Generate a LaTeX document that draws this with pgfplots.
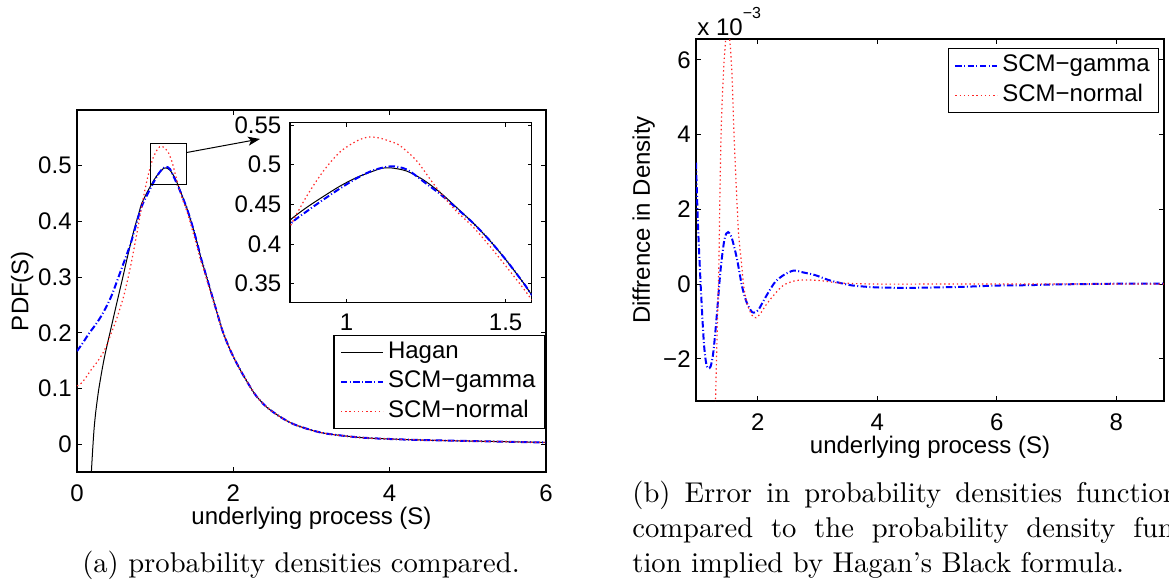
\documentclass[border=0pt]{standalone}
\usepackage{fontspec}
\usepackage{pgfplots}
\pgfplotsset{compat=1.18}
\usepackage{pgfplotstable}
\usetikzlibrary{arrows.meta}

\newfontfamily\plotfont{Liberation Sans}
\newfontfamily\capfont{lmroman10-regular.otf}
\newcommand{\pf}{\plotfont\fontsize{12}{14}\selectfont}
\newcommand{\cf}{\capfont\fontsize{14.3}{17}\selectfont}

% Hagan's density and the two SCM densities
\pgfplotstableread{
x y
0.180 -0.060
0.192 -0.030
0.205 0.000
0.220 0.030
0.240 0.058
0.260 0.080
0.280 0.100
0.320 0.133
0.360 0.162
0.430 0.205
0.500 0.248
0.590 0.302
0.640 0.333
0.690 0.362
0.740 0.390
0.790 0.414
0.822 0.430
0.874 0.446
0.927 0.460
0.979 0.473
1.032 0.484
1.084 0.492
1.110 0.4955
1.140 0.4960
1.189 0.492
1.241 0.481
1.294 0.465
1.346 0.446
1.399 0.426
1.451 0.404
1.503 0.379
1.556 0.351
1.582 0.336
1.616 0.320
1.700 0.280
1.790 0.237
1.870 0.200
1.980 0.163
2.110 0.128
2.260 0.093
2.340 0.079
2.430 0.066
2.600 0.049
2.770 0.036
2.980 0.026
3.190 0.019
3.620 0.012
4.050 0.009
4.470 0.0072
5.110 0.0054
6.000 0.0030
}\hagan

\pgfplotstableread{
x y
0.000 0.167
0.080 0.183
0.160 0.200
0.240 0.215
0.310 0.230
0.380 0.248
0.440 0.266
0.500 0.288
0.567 0.314
0.630 0.338
0.695 0.364
0.760 0.396
0.822 0.425
0.874 0.441
0.927 0.456
0.979 0.470
1.032 0.483
1.084 0.493
1.140 0.498
1.189 0.494
1.241 0.479
1.294 0.463
1.346 0.445
1.399 0.426
1.451 0.404
1.503 0.379
1.556 0.351
1.582 0.336
1.616 0.320
1.700 0.280
1.790 0.237
1.870 0.200
1.980 0.163
2.110 0.128
2.260 0.093
2.340 0.079
2.430 0.066
2.600 0.049
2.770 0.036
2.980 0.026
3.190 0.019
3.620 0.012
4.050 0.009
4.470 0.0072
5.110 0.0054
6.000 0.0030
}\gammapdf

\pgfplotstableread{
x y
0.000 0.1045
0.060 0.110
0.120 0.121
0.183 0.134
0.260 0.148
0.333 0.164
0.390 0.181
0.440 0.200
0.500 0.222
0.546 0.242
0.590 0.262
0.630 0.284
0.695 0.326
0.760 0.374
0.822 0.422
0.874 0.460
0.927 0.492
0.979 0.516
1.032 0.530
1.070 0.535
1.105 0.5335
1.140 0.529
1.168 0.524
1.220 0.505
1.273 0.476
1.315 0.455
1.346 0.441
1.399 0.421
1.451 0.397
1.503 0.371
1.556 0.344
1.582 0.330
1.616 0.316
1.700 0.277
1.790 0.237
1.870 0.200
1.980 0.163
2.110 0.128
2.260 0.093
2.340 0.079
2.430 0.066
2.600 0.049
2.770 0.036
2.980 0.026
3.190 0.019
3.620 0.012
4.050 0.009
4.470 0.0072
5.110 0.0054
6.000 0.0030
}\normalpdf

% density differences (units of 1e-3)
\pgfplotstableread{
x y
0.967 3.25
0.985 2.30
1.006 1.35
1.033 0.38
1.061 -0.52
1.100 -1.60
1.139 -2.14
1.172 -2.25
1.211 -2.21
1.250 -1.91
1.283 -1.42
1.322 -0.70
1.378 0.38
1.433 1.10
1.472 1.35
1.506 1.39
1.544 1.32
1.583 1.14
1.656 0.65
1.739 -0.07
1.822 -0.52
1.906 -0.75
1.961 -0.75
2.017 -0.68
2.072 -0.52
2.183 -0.21
2.294 0.06
2.433 0.24
2.600 0.36
2.767 0.31
2.961 0.24
3.183 0.11
3.406 0.02
3.600 -0.04
4.000 -0.09
4.500 -0.10
5.000 -0.09
5.500 -0.07
6.000 -0.04
6.500 -0.03
7.000 -0.01
7.500 0.00
8.000 0.01
8.800 0.01
}\gammadiff

\pgfplotstableread{
x y
1.260 -6.00
1.294 -3.13
1.322 -1.24
1.350 0.56
1.367 2.35
1.389 4.15
1.422 5.50
1.461 6.49
1.500 6.90
1.544 6.31
1.572 5.50
1.600 4.15
1.628 3.07
1.656 2.08
1.683 1.28
1.728 0.56
1.767 -0.07
1.822 -0.52
1.906 -0.84
1.972 -0.90
2.044 -0.79
2.156 -0.52
2.294 -0.25
2.433 -0.03
2.628 0.09
2.850 0.11
3.072 0.09
3.294 0.04
3.517 0.02
4.000 0.00
5.000 0.00
6.000 0.00
7.000 0.00
8.000 0.00
8.800 0.00
}\normaldiff

\pgfplotsset{
  mlab/.style={
    scale only axis,
    axis line style={line width=0.6pt},
    tick style={line width=0.5pt, black},
    major tick length=2.5pt,
    tick align=inside,
    xtick pos=both, ytick pos=both,
    xticklabel pos=lower, yticklabel pos=left,
    ticklabel style={font=\pf},
    yticklabel style={anchor=east, inner sep=0pt, xshift=-2.5pt},
    clip=true,
  },
  hagan/.style={black, line width=0.5pt},
  scmg/.style={blue, line width=1pt, dash pattern=on 3.2pt off 1.2pt on 0.5pt off 1.2pt},
  scmn/.style={red!85!white, line width=0.6pt, dash pattern=on 0.7pt off 1.4pt},
  mleg/.style={
    legend cell align=left,
    legend image code/.code={\draw[##1] (0pt,0pt) -- (21pt,0pt);},
    legend style={draw=black, line width=0.6pt, fill=white, font=\pf,
      inner xsep=3pt, inner ysep=1.5pt, row sep=0.5pt, column sep=0.5pt,
      nodes={inner sep=1.5pt, text height=8.6pt, text depth=2.6pt}},
  },
}

\begin{document}
\begin{tikzpicture}[x=1pt,y=1pt]
\path[use as bounding box, clip] (0,0) rectangle (584.5,293);

% (a) probability densities
\begin{axis}[mlab, mleg,
  at={(38.5pt,57pt)}, anchor=south west,
  width=234.5pt, height=181pt,
  xmin=0, xmax=6, ymin=-0.05, ymax=0.6,
  xtick={0,2,4,6}, xticklabels={0,2,4,6},
  ytick={0,0.1,0.2,0.3,0.4,0.5}, yticklabels={0,0.1,0.2,0.3,0.4,0.5},
  xticklabel style={anchor=center, inner sep=0pt, yshift=-10.5pt},
  xlabel={underlying process (S)}, ylabel={PDF(S)},
  every axis x label/.style={at={(axis description cs:0.5,-0.128)}, anchor=center, inner sep=0pt, font=\pf},
  every axis y label/.style={at={(axis description cs:-0.117,0.5)}, rotate=90, anchor=center, inner sep=0pt, font=\pf},
  legend style={at={(0.998,0.119)}, anchor=south east},
]
\addplot[hagan, smooth] table[x=x,y=y] {\hagan};
\addplot[scmg, smooth] table[x=x,y=y] {\gammapdf};
\addplot[scmn, smooth] table[x=x,y=y] {\normalpdf};
\legend{Hagan, SCM−gamma, SCM−normal}
\draw[black, line width=0.5pt] (axis cs:0.934,0.466) rectangle (axis cs:1.404,0.539);
\draw[black, line width=0.5pt, -{Stealth[length=6pt,width=4.5pt,inset=1.5pt]}]
  (axis cs:1.404,0.5237) -- (axis cs:2.341,0.548);
\end{axis}

% zoomed view around the peak
\begin{axis}[mlab,
  at={(145pt,141.65pt)}, anchor=south west,
  width=120.85pt, height=90pt,
  axis background/.style={fill=white},
  xmin=0.822, xmax=1.582, ymin=0.326, ymax=0.553,
  xtick={1,1.5}, xticklabels={1,1.5},
  ytick={0.35,0.4,0.45,0.5,0.55}, yticklabels={0.35,0.4,0.45,0.5,0.55},
  xticklabel style={anchor=center, inner sep=0pt, yshift=-9.65pt},
  yticklabel style={xshift=-1.65pt},
  major tick length=2pt,
]
\addplot[hagan, smooth] table[x=x,y=y] {\hagan};
\addplot[scmg, smooth] table[x=x,y=y] {\gammapdf};
\addplot[scmn, smooth] table[x=x,y=y] {\normalpdf};
\end{axis}

% (b) error in the densities
\begin{axis}[mlab, mleg,
  at={(348pt,92.5pt)}, anchor=south west,
  width=234pt, height=181pt,
  xmin=0.967, xmax=8.8, ymin=-3.13, ymax=6.56,
  xtick={2,4,6,8}, xticklabels={2,4,6,8},
  ytick={-2,0,2,4,6}, yticklabels={−2,0,2,4,6},
  xticklabel style={anchor=center, inner sep=0pt, yshift=-10.5pt},
  xlabel={underlying process (S)}, ylabel={Diffrence in Density},
  every axis x label/.style={at={(axis description cs:0.5,-0.128)}, anchor=center, inner sep=0pt, font=\pf},
  every axis y label/.style={at={(axis description cs:-0.112,0.5)}, rotate=90, anchor=center, inner sep=0pt, font=\pf},
  legend style={at={(0.99,0.975)}, anchor=north east},
]
\addplot[scmg, smooth] table[x=x,y=y] {\gammadiff};
\addplot[scmn, smooth] table[x=x,y=y] {\normaldiff};
\legend{SCM−gamma, SCM−normal}
\end{axis}

\node[anchor=base west, inner sep=0pt, font=\pf] at (348.5,275.5)
  {x 10\raisebox{8.5pt}{\plotfont\fontsize{8}{9}\selectfont −3}};

% captions
\node[anchor=base, inner sep=0pt, font=\cf] at (150.5,7) {(a) probability densities compared.};
\node[anchor=base west, inner sep=0pt, font=\cf] at (316,42)
  {\spaceskip=7.1pt\relax (b) Error in probability densities functions};
\node[anchor=base west, inner sep=0pt, font=\cf] at (316,24.5)
  {\spaceskip=8.9pt\relax compared to the probability density func-};
\node[anchor=base west, inner sep=0pt, font=\cf] at (316,7) {tion implied by Hagan’s Black formula.};
\end{tikzpicture}
\end{document}
